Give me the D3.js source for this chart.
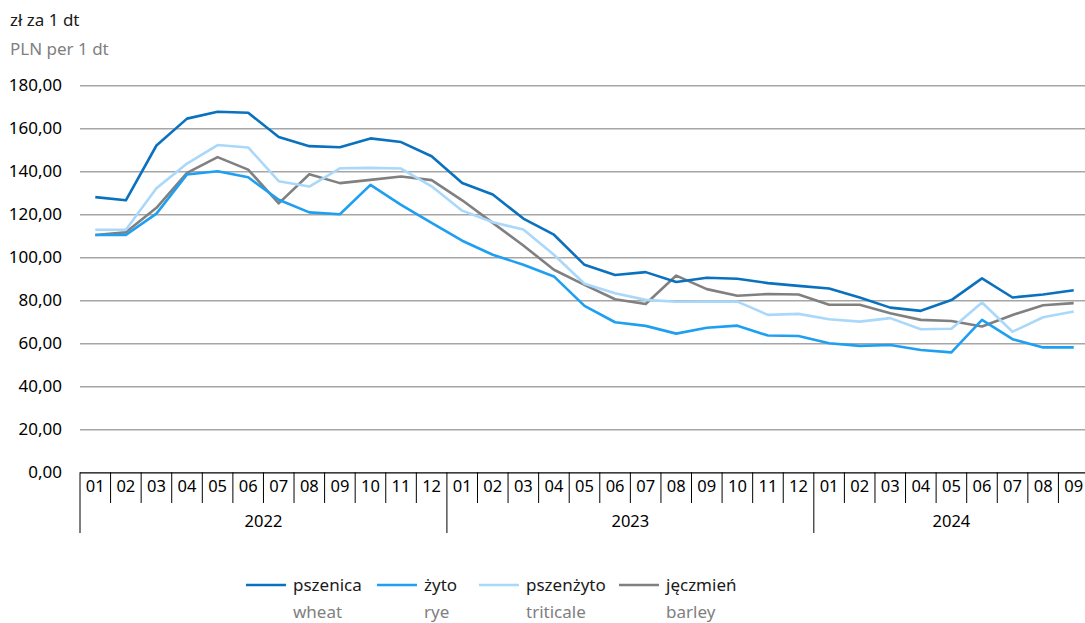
<!DOCTYPE html>
<html>
<head>
<meta charset="utf-8">
<script src="https://cdn.jsdelivr.net/npm/d3@7"></script>
<style>
    body { margin: 0; background: #fff; }
    svg { font-family: "Noto Sans", "Open Sans", sans-serif; }
</style>
</head>
<body>
<svg id="chart" width="1085" height="623"></svg>
<script>
// months 2022-01 .. 2024-09
var monthLabels = ["01","02","03","04","05","06","07","08","09","10","11","12",
                   "01","02","03","04","05","06","07","08","09","10","11","12",
                   "01","02","03","04","05","06","07","08","09"];
var years = ["2022", "2023", "2024"];
var yTicks = [0, 20, 40, 60, 80, 100, 120, 140, 160, 180];

var wheat = [128, 126.5, 152, 164.5, 167.7, 167.2, 156, 151.7, 151.2, 155.3, 153.6, 147,
             134.6, 129.2, 118, 110.5, 96.5, 91.8, 93.1, 88.5, 90.5, 90, 88, 86.7,
             85.5, 81.3, 76.6, 75.1, 80.1, 90.2, 81.3, 82.7, 84.7];
var rye = [110.4, 110.4, 120.3, 138.5, 140, 137.2, 126.8, 120.9, 120, 133.7, 124.4, 116,
           107.7, 101.2, 96.5, 91.1, 77.4, 69.8, 68.1, 64.5, 67.2, 68.2, 63.6, 63.4,
           60, 58.8, 59.2, 56.9, 55.8, 70.9, 61.9, 58.1, 58.1];
var triticale = [112.8, 112.8, 132.1, 143.6, 152.2, 151.1, 135.4, 132.9, 141.4, 141.6, 141.3, 133,
                 121.7, 116.3, 112.9, 101.2, 87.7, 83.3, 80.2, 79.3, 79.4, 79.4, 73.2, 73.7,
                 71.2, 70.1, 71.7, 66.5, 66.8, 79, 65.4, 72.1, 74.8];
var barley = [110.4, 111.6, 123, 139.3, 146.6, 140.8, 125.1, 138.6, 134.5, 136, 137.6, 135.9,
              126.5, 116, 105.5, 94.2, 87.2, 80.5, 78.3, 91.5, 85.2, 82.1, 82.9, 82.7,
              77.9, 77.9, 74, 70.9, 70.4, 67.8, 73.2, 77.7, 78.7];

var series = [
    {pl: "pszenica", en: "wheat", color: "#0a71bf", values: wheat},
    {pl: "żyto", en: "rye", color: "#1e9ff2", values: rye},
    {pl: "pszenżyto", en: "triticale", color: "#a9d8fb", values: triticale},
    {pl: "jęczmień", en: "barley", color: "#808080", values: barley}
];

var svg = d3.select("#chart"),
    plotLeft = 80,
    plotRight = 1089,
    plotTop = 85.3,
    plotBottom = 472.3,
    fontSize = 17;

var x = d3.scaleBand()
          .domain(d3.range(monthLabels.length))
          .range([plotLeft, plotRight])
          .paddingInner(0)
          .paddingOuter(0);

var y = d3.scaleLinear()
          .domain([0, 180])
          .range([plotBottom, plotTop]);

// unit labels
svg.append("text")
   .attr("x", 10).attr("y", 26)
   .style("font-size", fontSize + "px")
   .style("fill", "#1a1a1a")
   .text("zł za 1 dt");
svg.append("text")
   .attr("x", 10).attr("y", 55)
   .style("font-size", fontSize + "px")
   .style("fill", "#808080")
   .text("PLN per 1 dt");

// y axis with gridlines
var yAxis = svg.append("g")
               .attr("transform", "translate(" + plotLeft + ",0)")
               .call(d3.axisLeft(y)
                       .tickValues(yTicks)
                       .tickSize(-(1085 - plotLeft))
                       .tickPadding(18)
                       .tickFormat(function(d) { return d.toFixed(2).replace(".", ","); }));
yAxis.select(".domain").remove();
yAxis.selectAll(".tick line")
     .attr("stroke", function(d) { return d === 0 ? "#000" : "#a6a6a6"; })
     .attr("stroke-width", function(d) { return d === 0 ? 1.2 : 1.4; });
yAxis.selectAll(".tick text")
     .style("font-size", fontSize + "px")
     .style("font-family", "'Noto Sans', sans-serif")
     .attr("fill", "#000");

// x axis: month labels
var xAxis = svg.append("g")
               .attr("transform", "translate(0," + plotBottom + ")")
               .call(d3.axisBottom(x)
                       .tickSize(0)
                       .tickPadding(8)
                       .tickFormat(function(i) { return monthLabels[i]; }));
xAxis.select(".domain").remove();
xAxis.selectAll(".tick text")
     .style("font-size", "16.5px")
     .style("font-family", "'Noto Sans', sans-serif")
     .attr("fill", "#000");

// separators between months, longer ones between years
var edges = d3.range(monthLabels.length + 1);
svg.append("g")
   .selectAll("line")
   .data(edges)
   .join("line")
   .attr("x1", function(i) { return plotLeft + i * x.bandwidth(); })
   .attr("x2", function(i) { return plotLeft + i * x.bandwidth(); })
   .attr("y1", plotBottom)
   .attr("y2", function(i) { return i % 12 === 0 ? 533 : 503; })
   .attr("stroke", "#000")
   .attr("stroke-width", 1);

// year labels
svg.append("g")
   .selectAll("text")
   .data(years)
   .join("text")
   .attr("x", function(d, i) {
       var first = i * 12,
           last = Math.min(first + 11, monthLabels.length - 1);
       return (x(first) + x(last) + x.bandwidth()) / 2;
   })
   .attr("y", 527)
   .attr("text-anchor", "middle")
   .style("font-size", "16.5px")
   .style("fill", "#000")
   .text(function(d) { return d; });

// lines
var line = d3.line()
             .x(function(d, i) { return x(i) + x.bandwidth() / 2; })
             .y(function(d) { return y(d); });

svg.append("g")
   .selectAll("path")
   .data(series.slice().reverse())
   .join("path")
   .attr("d", function(d) { return line(d.values); })
   .attr("fill", "none")
   .attr("stroke", function(d) { return d.color; })
   .attr("stroke-width", 2.6)
   .attr("stroke-linejoin", "round");

// legend
var legendX = [246, 377, 479, 619];
var legend = svg.append("g")
                .selectAll("g")
                .data(series)
                .join("g")
                .attr("transform", function(d, i) { return "translate(" + legendX[i] + ",585)"; });

legend.append("line")
      .attr("x1", 0).attr("x2", 40)
      .attr("stroke", function(d) { return d.color; })
      .attr("stroke-width", 2.6);
legend.append("text")
      .attr("x", 47).attr("y", 6)
      .style("font-size", fontSize + "px")
      .style("fill", "#1a1a1a")
      .text(function(d) { return d.pl; });
legend.append("text")
      .attr("x", 47).attr("y", 33)
      .style("font-size", fontSize + "px")
      .style("fill", "#808080")
      .text(function(d) { return d.en; });
</script>
</body>
</html>
